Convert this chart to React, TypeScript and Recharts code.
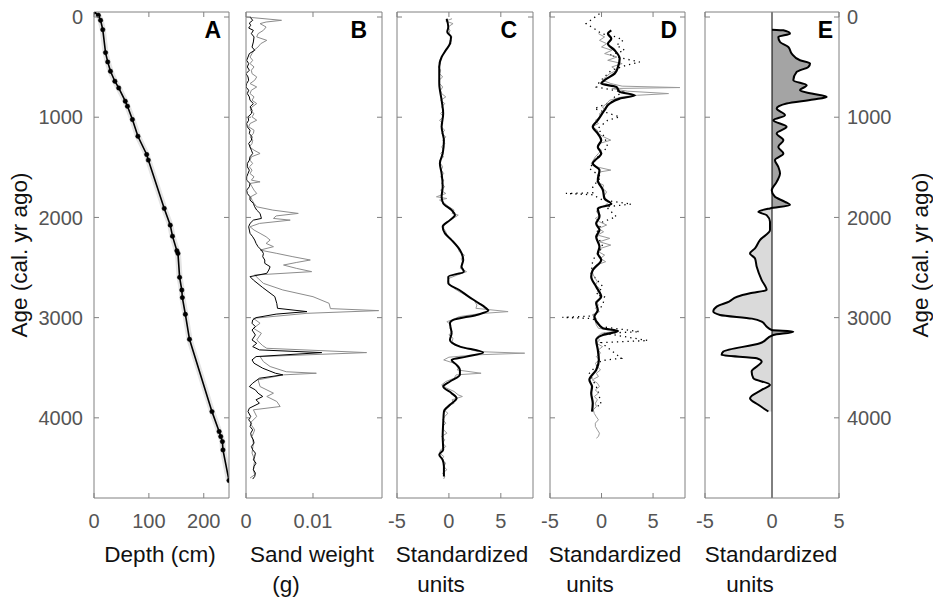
import React from 'react'
import { ComposedChart, Line, Area, XAxis, YAxis, ReferenceLine } from 'recharts'

const FONT = '"Liberation Sans", Arial, Helvetica, sans-serif'
const AXIS = '#808080'
const TICK_TXT = '#555'

const ageDomain = [-50, 4800]
const ageTicks = [0, 1000, 2000, 3000, 4000]

// panel A: age-depth model, [age, depth cm]
const depthModel = [
  [-50, 0], [-17, 8], [33, 12], [126, 16], [355, 21], [448, 25], [541, 30], [641, 38],
  [708, 45], [840, 57], [890, 61], [1023, 70], [1190, 80], [1372, 96], [1428, 99],
  [1910, 128], [2077, 139], [2187, 143], [2333, 151], [2359, 153], [2598, 156], [2725, 160],
  [2800, 161], [2967, 166.5], [3216, 174], [3938, 215], [4137, 228], [4187, 231], [4237, 234],
  [4320, 235], [4626, 246],
]

// panel B: sand weight (g), [age, g]
const sandBlack = [
  [0, 0.0006], [33, 0.001], [60, 0.0005], [83, 0.0007], [110, 0.0004], [133, 0.0011], [166, 0.0008],
  [199, 0.0012], [249, 0.0011], [300, 0.0009], [332, 0.0013], [365, 0.0005], [400, 0.0003], [432, 0.0001],
  [465, 0.0004], [498, 0.0002], [531, 0.0005], [565, 0.0], [598, 0.0003], [631, 0.0004], [664, 0.0001],
  [698, 0.0], [731, 0.0004], [764, 0.0002], [797, 0.0005], [831, 0.0006], [864, 0.0011], [897, 0.0006],
  [930, 0.0009], [964, 0.0008], [997, 0.0003], [1030, 0.0004], [1063, 0.0001], [1096, 0.0002],
  [1130, 0.0006], [1163, 0.0005], [1196, 0.0009], [1229, 0.0008], [1262, 0.0004], [1296, 0.0006],
  [1329, 0.0008], [1362, 0.001], [1395, 0.0006], [1429, 0.0005], [1462, 0.0002], [1495, 0.0002],
  [1528, 0.0005], [1562, 0.0003], [1595, 0.0001], [1628, 0.0001], [1661, 0.0006], [1694, 0.0005],
  [1728, 0.0001], [1761, 0.0002], [1794, 0.0006], [1827, 0.0006], [1860, 0.0011], [1894, 0.0013],
  [1927, 0.0016], [1960, 0.0021], [2010, 0.0023], [2027, 0.0011], [2060, 0.0006], [2093, 0.0004],
  [2126, 0.0005], [2159, 0.0006], [2193, 0.001], [2226, 0.0013], [2259, 0.0015], [2292, 0.0018],
  [2326, 0.0023], [2359, 0.0026], [2392, 0.0025], [2425, 0.0028], [2458, 0.0028], [2492, 0.0036],
  [2525, 0.0034], [2558, 0.0031], [2591, 0.0006], [2625, 0.0011], [2700, 0.0025], [2790, 0.0043],
  [2860, 0.0046], [2907, 0.0047], [2940, 0.0091], [2965, 0.0045], [3000, 0.0015], [3023, 0.001],
  [3056, 0.0009], [3090, 0.0014], [3123, 0.0009], [3173, 0.0014], [3223, 0.0009], [3256, 0.0016],
  [3289, 0.001], [3322, 0.002], [3349, 0.0113], [3389, 0.0015], [3422, 0.0009], [3455, 0.0012],
  [3505, 0.0025], [3555, 0.0044], [3571, 0.0055], [3605, 0.002], [3654, 0.001], [3688, 0.0005],
  [3721, 0.0014], [3754, 0.0018], [3787, 0.0025], [3820, 0.0015], [3854, 0.002], [3904, 0.0005],
  [3937, 0.0003], [3987, 0.0007], [4020, 0.0004], [4053, 0.0008], [4086, 0.0006], [4120, 0.001],
  [4153, 0.0007], [4186, 0.0008], [4219, 0.0011], [4252, 0.0012], [4286, 0.0008], [4319, 0.001],
  [4352, 0.0014], [4385, 0.0013], [4419, 0.0011], [4452, 0.0015], [4485, 0.0012], [4518, 0.0011],
  [4551, 0.0014], [4585, 0.0013], [4611, 0.001],
]
const sandGray = [
  [0, 0.0], [33, 0.0053], [50, 0.003], [66, 0.0021], [100, 0.003], [133, 0.0026], [166, 0.0018],
  [199, 0.0016], [233, 0.0031], [266, 0.0022], [299, 0.0018], [332, 0.0012], [365, 0.0009], [399, 0.0006],
  [432, 0.001], [465, 0.0006], [498, 0.0012], [531, 0.0008], [565, 0.0009], [598, 0.0016], [631, 0.0013],
  [664, 0.0006], [698, 0.0016], [731, 0.0008], [764, 0.0006], [797, 0.0012], [831, 0.0009], [864, 0.0016],
  [897, 0.0009], [930, 0.0006], [964, 0.0012], [997, 0.0009], [1030, 0.0016], [1063, 0.0006],
  [1096, 0.0004], [1130, 0.0012], [1163, 0.0011], [1196, 0.0006], [1229, 0.001], [1262, 0.0009],
  [1296, 0.0005], [1329, 0.0012], [1362, 0.0021], [1395, 0.0008], [1429, 0.0006], [1462, 0.001],
  [1495, 0.0005], [1528, 0.0009], [1562, 0.0006], [1595, 0.0012], [1628, 0.0008], [1645, 0.0021],
  [1661, 0.0006], [1694, 0.0009], [1728, 0.0012], [1761, 0.0016], [1794, 0.0007], [1827, 0.0009],
  [1860, 0.0012], [1894, 0.0016], [1927, 0.004], [1960, 0.0078], [1985, 0.0045], [2010, 0.0041],
  [2027, 0.0066], [2060, 0.002], [2093, 0.0006], [2126, 0.0012], [2159, 0.0021], [2193, 0.003],
  [2226, 0.0036], [2259, 0.003], [2292, 0.0041], [2326, 0.0021], [2359, 0.0046], [2392, 0.007],
  [2425, 0.0096], [2450, 0.0075], [2475, 0.0056], [2508, 0.0075], [2541, 0.0098], [2575, 0.0013],
  [2608, 0.0018], [2658, 0.0026], [2724, 0.0055], [2791, 0.01], [2857, 0.0124], [2910, 0.0126],
  [2930, 0.0198], [2957, 0.0091], [3007, 0.0011], [3056, 0.0021], [3106, 0.0011], [3156, 0.0023],
  [3223, 0.0016], [3280, 0.0025], [3306, 0.0031], [3349, 0.018], [3389, 0.0021], [3439, 0.0026],
  [3488, 0.0036], [3540, 0.006], [3555, 0.0105], [3571, 0.0056], [3621, 0.0018], [3688, 0.0021],
  [3754, 0.0041], [3787, 0.0031], [3837, 0.0046], [3887, 0.0051], [3920, 0.0011], [3987, 0.0016],
  [4053, 0.0006], [4120, 0.0013], [4186, 0.0009], [4252, 0.0011], [4352, 0.0009], [4419, 0.0013],
  [4518, 0.0011], [4568, 0.0013], [4601, 0.0006],
]

// panel C: standardized units
const cSmooth = [
  [17, -0.22], [100, -0.06], [150, -0.16], [199, 0.2], [266, 0.1], [332, -0.3], [399, -0.7], [498, -0.93],
  [664, -0.93], [831, -0.7], [964, -0.55], [1096, -0.7], [1163, -0.6], [1229, -0.48], [1362, -0.6],
  [1462, -0.87], [1562, -0.7], [1694, -0.6], [1794, -0.7], [1860, -0.55], [1927, 0.26], [1977, 0.58],
  [2027, 0.1], [2093, -0.6], [2159, -0.38], [2226, 0.26], [2326, 1.06], [2425, 1.38], [2492, 1.22],
  [2541, 1.44], [2591, -0.06], [2658, -0.06], [2724, 1.0], [2790, 1.9], [2857, 2.9], [2900, 3.5],
  [2930, 3.8], [2973, 2.66], [3023, 0.42], [3056, 0.1], [3156, 0.26], [3223, 0.1], [3289, 1.06],
  [3349, 3.3], [3389, 1.7], [3422, 0.26], [3472, 0.74], [3522, 1.06], [3571, 1.06], [3638, 0.1],
  [3688, -0.55], [3754, 0.26], [3804, 0.74], [3870, 0.1], [3937, -0.48], [4053, -0.55], [4186, -0.6],
  [4319, -0.55], [4369, -0.93], [4419, -0.6], [4485, -0.48], [4585, -0.48],
]
const cRaw = [
  [17, 0.3], [40, -0.3], [66, 0.4], [100, -0.1], [133, 0.1], [166, 0.0], [199, 0.3], [233, 0.1], [266, 0.2],
  [299, -0.1], [332, -0.4], [365, -0.5], [399, -0.7], [432, -0.9], [465, -0.85], [498, -1.0], [531, -0.8],
  [565, -0.9], [598, -0.6], [631, -0.95], [664, -0.9], [698, -0.6], [731, -0.8], [764, -0.7], [797, -0.3],
  [831, -0.8], [864, -0.4], [897, -0.7], [930, -0.5], [964, -0.8], [997, -0.5], [1030, -0.9], [1063, -0.6],
  [1096, -0.75], [1130, -0.4], [1163, -0.7], [1196, -0.3], [1229, -0.6], [1262, -0.4], [1296, -0.7],
  [1329, -0.5], [1362, -0.8], [1395, -0.5], [1429, -0.9], [1462, -0.8], [1495, -0.6], [1528, -0.75],
  [1562, -0.5], [1595, -0.8], [1628, -0.5], [1661, -0.7], [1694, -0.4], [1728, -0.8], [1761, -0.3],
  [1794, -1.2], [1811, -0.2], [1827, -0.9], [1860, -0.4], [1894, 0.0], [1927, 0.5], [1960, 0.3],
  [1977, 0.9], [2010, 0.4], [2043, -0.2], [2076, -0.5], [2110, -0.5], [2143, -0.3], [2176, -0.2],
  [2209, 0.1], [2243, 0.4], [2276, 0.7], [2309, 0.9], [2342, 1.0], [2376, 1.5], [2409, 1.2], [2442, 1.3],
  [2475, 1.2], [2508, 1.1], [2541, 1.7], [2575, 0.8], [2608, 0.0], [2641, -0.1], [2674, 0.2], [2708, 0.5],
  [2741, 1.0], [2774, 1.6], [2807, 2.2], [2840, 2.5], [2874, 2.7], [2907, 2.6], [2940, 5.7], [2960, 3.0],
  [2990, 1.0], [3023, 0.3], [3040, -0.2], [3073, 0.2], [3106, 0.1], [3140, 0.3], [3173, 0.0], [3206, 0.4],
  [3239, 0.3], [3273, 0.7], [3306, 1.6], [3339, 2.8], [3355, 7.3], [3372, 2.5], [3395, 0.0], [3422, -0.5],
  [3455, 0.5], [3488, 1.0], [3522, 0.8], [3555, 3.1], [3571, 0.7], [3605, 0.5], [3638, -0.3], [3671, -0.7],
  [3704, -0.2], [3737, 0.5], [3771, 0.9], [3787, 1.3], [3820, 0.3], [3854, 0.5], [3887, -0.1], [3920, -0.5],
  [3954, -0.1], [3987, -0.4], [4020, -0.6], [4053, -0.3], [4086, -0.6], [4120, -0.5], [4153, -0.2],
  [4186, -0.7], [4219, -0.4], [4252, -0.6], [4286, -0.3], [4319, -0.8], [4352, -0.9], [4385, -0.5],
  [4419, -0.7], [4452, -0.3], [4485, -0.5], [4518, -0.2], [4551, -0.6], [4585, -0.4], [4610, -0.5],
]

// panel D: standardized units
const dSmooth = [
  [133, 0.95], [166, 0.62], [216, 0.95], [266, 0.62], [332, 1.27], [415, 1.76], [498, 1.6], [565, 1.27],
  [631, 0.29], [664, -0.03], [698, 1.44], [747, 1.76], [781, 3.24], [814, 1.76], [864, 0.78], [930, 0.29],
  [1030, -0.36], [1096, -0.85], [1163, -0.36], [1229, -0.03], [1296, -0.36], [1362, -0.03], [1462, -0.85],
  [1528, -0.2], [1628, -0.36], [1728, 0.13], [1811, 0.29], [1867, 0.95], [1910, -0.36], [1993, -0.2],
  [2060, -0.52], [2126, -0.2], [2193, -0.52], [2292, -0.2], [2359, -0.36], [2425, -0.03], [2525, -0.85],
  [2591, -1.0], [2691, -0.52], [2791, -0.03], [2857, -0.52], [2924, -0.36], [2990, -0.69], [3056, -0.36],
  [3106, 0.13], [3133, 1.6], [3173, 0.13], [3223, -0.52], [3322, -0.36], [3422, -0.26], [3522, -0.52],
  [3621, -1.18], [3688, -0.92], [3754, -1.0], [3854, -0.85], [3937, -0.92],
]
const dRaw = [
  [166, -0.3], [199, 0.3], [233, -0.2], [266, 0.5], [299, 0.0], [332, 1.0], [365, 0.3], [399, 1.5], [432, 0.6],
  [465, 2.0], [498, 1.0], [531, 1.5], [565, 0.8], [598, 0.4], [631, 0.1], [664, 0.9], [690, 2.0], [704, 7.6],
  [714, 1.0], [740, 2.5], [764, 6.5], [781, 3.5], [797, 2.0], [830, 0.8], [864, 0.5], [897, 0.1], [930, 0.3],
  [964, -0.2], [997, -0.1], [1030, -0.6], [1063, -0.3], [1096, -0.9], [1130, -0.4], [1163, -0.3], [1196, 0.2],
  [1229, 0.9], [1262, -0.2], [1296, -0.4], [1329, 0.0], [1362, -0.3], [1395, -0.6], [1429, -0.8],
  [1462, -1.0], [1495, -0.5], [1528, 0.9], [1545, -0.1], [1578, -0.4], [1611, -0.2], [1645, -0.5],
  [1678, 0.2], [1711, 0.1], [1745, 0.5], [1778, 0.3], [1811, 0.2], [1844, 0.7], [1877, 0.4], [1910, -0.3],
  [1944, -0.5], [1977, -0.1], [2010, -0.6], [2043, -0.2], [2076, 0.5], [2110, -0.3], [2143, 0.2],
  [2176, -0.4], [2209, 0.8], [2243, -0.2], [2276, 0.9], [2309, -0.1], [2342, -0.3], [2376, 0.3],
  [2409, -0.1], [2442, 0.4], [2475, -0.5], [2508, -0.6], [2541, -0.9], [2575, -0.8], [2608, -0.6],
  [2641, -0.4], [2674, -0.6], [2708, -0.2], [2741, -0.4], [2774, -0.1], [2807, -0.2], [2840, -0.6],
  [2874, -0.3], [2907, -0.6], [2940, -0.2], [2973, -0.9], [3007, -0.5], [3040, -0.6], [3073, -0.5],
  [3106, -0.3], [3123, 0.8], [3140, 1.2], [3156, 0.0], [3190, -0.4], [3223, -0.2], [3256, -0.5],
  [3289, 0.1], [3322, -0.3], [3355, -0.1], [3389, -0.5], [3422, -0.2], [3455, -0.6], [3488, -0.4],
  [3522, -0.1], [3555, -0.5], [3588, -0.3], [3621, -0.9], [3654, -0.4], [3688, -0.2], [3721, -0.6],
  [3754, -0.3], [3787, -0.7], [3820, -0.4], [3854, -0.6], [3887, -0.5], [3920, -0.8], [3957, -0.7],
  [3990, -0.5], [4020, -0.3], [4053, -0.6], [4086, -0.6], [4120, -0.4], [4153, -0.2], [4186, -0.3],
  [4203, -0.5],
]
const dDotted = [
  [-33, -0.2], [17, -0.85], [66, -1.5], [116, -0.7], [166, 0.0], [199, 1.44], [233, 2.1], [282, 1.44],
  [332, 2.25], [382, 0.78], [449, 3.7], [482, 2.4], [532, 0.95], [581, 0.46], [648, -0.2], [698, -0.52],
  [748, 2.1], [797, 1.27], [847, 0.95], [914, -0.7], [997, 1.76], [1030, 0.6], [1113, -0.36], [1196, 0.29],
  [1296, 0.6], [1395, -0.36], [1512, -1.18], [1595, -0.03], [1694, -0.85], [1754, -0.85], [1761, -3.46],
  [1774, -0.85], [1827, 0.13], [1867, 2.9], [1894, 0.46], [1993, 1.44], [2043, 0.13], [2159, -0.52],
  [2292, 0.13], [2425, -0.85], [2558, -1.0], [2691, 0.13], [2774, -0.52], [2791, 0.29], [2874, 0.13],
  [2983, -0.85], [2997, -3.8], [3010, -0.85], [3090, -0.03], [3140, 3.7], [3156, 0.29], [3229, 4.5],
  [3249, -0.03], [3405, 1.93], [3429, -0.03], [3555, -1.18], [3621, -0.85], [3721, -0.36], [3870, -0.03],
  [3887, -0.52],
]

// panel E: standardized units
const eIndex = [
  [126, 0], [133, 0.85], [166, 1.34], [199, 0.47], [249, 0.6], [299, 1.22], [365, 1.47], [432, 2.09],
  [465, 2.84], [498, 2.71], [548, 1.84], [631, 1.59], [681, 2.59], [731, 2.09], [764, 2.96], [797, 4.08],
  [824, 3.08], [864, 1.09], [914, 0.35], [980, 0.97], [1030, 0.1], [1096, 1.09], [1163, 0.35], [1229, 0.85],
  [1296, 0.47], [1362, 0.85], [1429, 0.22], [1495, 0.47], [1562, 0.6], [1645, 0.35], [1728, -0.02],
  [1794, 0.22], [1844, 0.97], [1877, 1.34], [1910, -0.15], [1944, -1.02], [1977, -0.4], [2043, -0.15],
  [2126, -0.15], [2226, -0.9], [2309, -1.27], [2359, -1.64], [2409, -1.27], [2492, -1.14], [2625, -0.77],
  [2724, -0.4], [2757, -1.64], [2791, -2.6], [2840, -3.2], [2890, -4.13], [2940, -4.38], [2973, -3.88],
  [3010, -1.5], [3040, -0.77], [3090, -0.4], [3123, -0.02], [3140, 1.59], [3173, 0.1], [3256, -0.9],
  [3339, -3.63], [3372, -3.76], [3405, -1.14], [3439, -0.77], [3538, -1.52], [3605, -1.39], [3671, -0.15],
  [3721, -0.77], [3804, -1.64], [3870, -1.02], [3937, -0.27],
]

const rows = (pairs: number[][]) => pairs.map(([age, v]) => ({ age, v }))

const TOP = 12
const BOTTOM_H = 101

function makeTick(side: 'bottom' | 'top' | 'left' | 'right', label: boolean) {
  return (p: any) => {
    const x = p.x
    const y = p.y
    const v = p.payload?.value
    const txt = { fill: TICK_TXT, fontSize: 20, fontFamily: FONT }
    if (side === 'bottom') {
      return (
        <g>
          <line x1={x} x2={x} y1={y} y2={y - 5} stroke={AXIS} />
          {label && <text x={x} y={y + 30} textAnchor="middle" {...txt}>{String(v)}</text>}
        </g>
      )
    }
    if (side === 'top') {
      return <line x1={x} x2={x} y1={y} y2={y + 5} stroke={AXIS} />
    }
    if (side === 'left') {
      return (
        <g>
          <line x1={x} x2={x + 5} y1={y} y2={y} stroke={AXIS} />
          {label && <text x={x - 11} y={y} dy="0.36em" textAnchor="end" {...txt}>{String(v)}</text>}
        </g>
      )
    }
    return (
      <g>
        <line x1={x} x2={x - 5} y1={y} y2={y} stroke={AXIS} />
        {label && <text x={x + 8} y={y} dy="0.36em" textAnchor="start" {...txt}>{String(v)}</text>}
      </g>
    )
  }
}

type PanelProps = {
  plotLeft: number
  plotRight: number
  leftW?: number
  rightW?: number
  xDomain: number[]
  xTicks: number[]
  leftLabels?: boolean
  rightLabels?: boolean
  children?: React.ReactNode
}

// each panel is its own chart; the side widths only leave room for tick labels
function Panel({ plotLeft, plotRight, leftW = 20, rightW = 20, xDomain, xTicks, leftLabels = false, rightLabels = false, children }: PanelProps) {
  const width = leftW + (plotRight - plotLeft) + rightW
  return (
    <div style={{ position: 'absolute', left: plotLeft - leftW, top: 0 }}>
      <ComposedChart width={width} height={599} layout="vertical" margin={{ top: 0, right: 0, bottom: 0, left: 0 }}>
        {children}
        <XAxis xAxisId="b" type="number" orientation="bottom" domain={xDomain} ticks={xTicks} interval={0}
          allowDataOverflow height={BOTTOM_H} axisLine={{ stroke: AXIS }} tickLine={false} tickSize={0}
          tickMargin={0} tick={makeTick('bottom', true)} />
        <XAxis xAxisId="t" type="number" orientation="top" domain={xDomain} ticks={xTicks} interval={0}
          allowDataOverflow height={TOP} axisLine={{ stroke: AXIS }} tickLine={false} tickSize={0}
          tickMargin={0} tick={makeTick('top', false)} />
        <YAxis yAxisId="l" type="number" dataKey="age" orientation="left" domain={ageDomain}
          ticks={ageTicks} interval={0} allowDataOverflow width={leftW} axisLine={{ stroke: AXIS }}
          tickLine={false} tickSize={0} tickMargin={0} tick={makeTick('left', leftLabels)} />
        <YAxis yAxisId="r" type="number" dataKey="age" orientation="right" domain={ageDomain}
          ticks={ageTicks} interval={0} allowDataOverflow width={rightW} axisLine={{ stroke: AXIS }}
          tickLine={false} tickSize={0} tickMargin={0} tick={makeTick('right', rightLabels)} />
      </ComposedChart>
    </div>
  )
}

const ids = { xAxisId: 'b', yAxisId: 'l' }

const titleStyle = { fontSize: 22.5, fontFamily: FONT, fill: '#111' }
const letterStyle = { fontSize: 23, fontFamily: FONT, fontWeight: 700, fill: '#000' }

export default function App() {
  return (
    <div style={{ position: 'absolute', left: 0, top: 0, width: 933, height: 599, background: '#fff' }}>
      <Panel plotLeft={94} plotRight={229} leftW={94} xDomain={[0, 246]} xTicks={[0, 100, 200]} leftLabels>
        <Line {...ids} data={rows(depthModel)} dataKey="v" stroke="#e4e4e4" strokeWidth={6} dot={false} isAnimationActive={false} />
        <Line {...ids} data={rows(depthModel)} dataKey="v" stroke="#000" strokeWidth={1.6}
          dot={{ r: 2.2, fill: '#000', stroke: '#000', strokeWidth: 0.5 }} isAnimationActive={false} />
      </Panel>

      <Panel plotLeft={246} plotRight={382} xDomain={[0, 0.0203]} xTicks={[0, 0.01]}>
        <Line {...ids} data={rows(sandGray)} dataKey="v" stroke="#8c8c8c" strokeWidth={1} dot={false} isAnimationActive={false} />
        <Line {...ids} data={rows(sandBlack)} dataKey="v" stroke="#000" strokeWidth={1} dot={false} isAnimationActive={false} />
      </Panel>

      <Panel plotLeft={397} plotRight={533} xDomain={[-5, 8.1]} xTicks={[-5, 0, 5]}>
        <Line {...ids} data={rows(cRaw)} dataKey="v" stroke="#9a9a9a" strokeWidth={1} dot={false} isAnimationActive={false} />
        <Line {...ids} type="monotone" data={rows(cSmooth)} dataKey="v" stroke="#000" strokeWidth={2} dot={false} isAnimationActive={false} />
      </Panel>

      <Panel plotLeft={550} plotRight={685} xDomain={[-5, 8.1]} xTicks={[-5, 0, 5]}>
        <Line {...ids} data={rows(dDotted)} dataKey="v" stroke="#000" strokeWidth={1.3} strokeDasharray="1.3 4"
          dot={false} isAnimationActive={false} />
        <Line {...ids} data={rows(dRaw)} dataKey="v" stroke="#9a9a9a" strokeWidth={1} dot={false} isAnimationActive={false} />
        <Line {...ids} type="monotone" data={rows(dSmooth)} dataKey="v" stroke="#000" strokeWidth={2.2} dot={false} isAnimationActive={false} />
      </Panel>

      <Panel plotLeft={705} plotRight={839} rightW={94} xDomain={[-5, 5]} xTicks={[-5, 0, 5]} rightLabels>
        <defs>
          <linearGradient id="eSplit" gradientUnits="userSpaceOnUse" x1={20} y1={0} x2={154} y2={0}>
            <stop offset="0%" stopColor="#dadada" />
            <stop offset="50%" stopColor="#dadada" />
            <stop offset="50%" stopColor="#a4a4a4" />
            <stop offset="100%" stopColor="#a4a4a4" />
          </linearGradient>
        </defs>
        <Area {...ids} type="monotone" data={rows(eIndex)} dataKey="v" baseValue={0} fill="url(#eSplit)"
          fillOpacity={1} stroke="none" isAnimationActive={false} />
        <ReferenceLine {...ids} x={0} stroke="#000" strokeWidth={1} />
        <Line {...ids} type="monotone" data={rows(eIndex)} dataKey="v" stroke="#000" strokeWidth={2} dot={false} isAnimationActive={false} />
      </Panel>

      <svg width={933} height={599} style={{ position: 'absolute', left: 0, top: 0, pointerEvents: 'none' }}>
        <text x={221} y={38} textAnchor="end" {...letterStyle}>A</text>
        <text x={367} y={38} textAnchor="end" {...letterStyle}>B</text>
        <text x={517} y={38} textAnchor="end" {...letterStyle}>C</text>
        <text x={677} y={38} textAnchor="end" {...letterStyle}>D</text>
        <text x={833} y={38} textAnchor="end" {...letterStyle}>E</text>

        <text x={160} y={562} textAnchor="middle" {...titleStyle}>Depth (cm)</text>
        <text x={312} y={562} textAnchor="middle" {...titleStyle}>Sand weight</text>
        <text x={286} y={592} textAnchor="middle" {...titleStyle}>(g)</text>
        <text x={462} y={562} textAnchor="middle" {...titleStyle}>Standardized</text>
        <text x={441} y={592} textAnchor="middle" {...titleStyle}>units</text>
        <text x={615} y={562} textAnchor="middle" {...titleStyle}>Standardized</text>
        <text x={590} y={592} textAnchor="middle" {...titleStyle}>units</text>
        <text x={771} y={562} textAnchor="middle" {...titleStyle}>Standardized</text>
        <text x={750} y={592} textAnchor="middle" {...titleStyle}>units</text>

        <text transform="translate(27,255) rotate(-90)" textAnchor="middle" {...titleStyle}>Age (cal. yr ago)</text>
        <text transform="translate(928,255) rotate(-90)" textAnchor="middle" {...titleStyle}>Age (cal. yr ago)</text>
      </svg>
    </div>
  )
}
